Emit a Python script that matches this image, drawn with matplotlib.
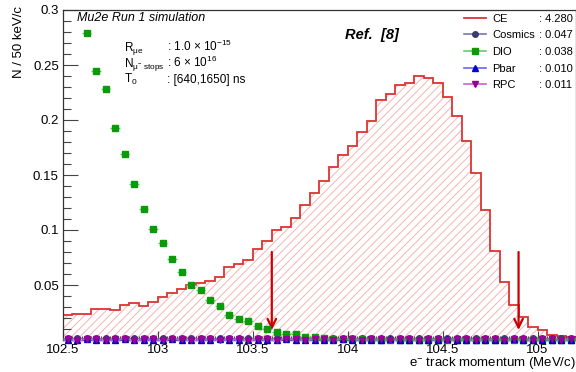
import matplotlib.pyplot as plt
import numpy as np
from matplotlib.lines import Line2D

plt.rcParams['font.family'] = ['Liberation Sans', 'DejaVu Sans']
plt.rcParams['mathtext.fontset'] = 'custom'
plt.rcParams['mathtext.rm'] = 'Liberation Sans'
plt.rcParams['mathtext.it'] = 'Liberation Sans:italic'
plt.rcParams['mathtext.bf'] = 'Liberation Sans:bold'
plt.rcParams['hatch.linewidth'] = 0.7

# 50 keV/c bins, 102.5 -> 105.2 MeV/c
bin_edges = np.linspace(102.5, 105.2, 55)
bin_centers = 0.5 * (bin_edges[:-1] + bin_edges[1:])

ce = [0.0230, 0.0234, 0.0240, 0.0280, 0.0280, 0.0270, 0.0315, 0.0340, 0.0310, 0.0350,
      0.0390, 0.0430, 0.0460, 0.0500, 0.0515, 0.0540, 0.0575, 0.0660, 0.0690, 0.0730,
      0.0830, 0.0900, 0.1000, 0.1025, 0.1110, 0.1230, 0.1340, 0.1450, 0.1570, 0.1680,
      0.1760, 0.1890, 0.1995, 0.2180, 0.2240, 0.2320, 0.2340, 0.2400, 0.2385, 0.2340,
      0.2210, 0.2040, 0.1810, 0.1520, 0.1180, 0.0810, 0.0530, 0.0320, 0.0210, 0.0120,
      0.0090, 0.0045, 0.0036, 0.0025]

dio = [np.nan, np.nan, 0.2790, 0.2445, 0.2280, 0.1930, 0.1694, 0.1421, 0.1194, 0.1012,
       0.0879, 0.0736, 0.0615, 0.0503, 0.0452, 0.0364, 0.0312, 0.0224, 0.0194, 0.0170,
       0.0124, 0.0100, 0.0073, 0.0055, 0.0052, 0.0030, 0.0027, 0.0020, 0.0012, 0.0010,
       0.0008, 0.0006, 0.0005, 0.0004, 0.0003, 0.0003, 0.0002, 0.0002, 0.0002, 0.0001,
       0.0001, 0.0001, 0.0001, 0.0001, 0.0001, 0.0001, 0.0000, 0.0000, 0.0000, 0.0000,
       0.0000, 0.0000, 0.0000, 0.0000]

cosmics = [0.0019, 0.0018, 0.0020, 0.0019, 0.0018, 0.0019, 0.0020, 0.0018, 0.0019, 0.0019,
           0.0018, 0.0020, 0.0019, 0.0018, 0.0019, 0.0020, 0.0019, 0.0018, 0.0019, 0.0020,
           0.0018, 0.0019, 0.0019, 0.0020, 0.0018, 0.0019, 0.0019, 0.0018, 0.0020, 0.0019,
           0.0018, 0.0019, 0.0020, 0.0019, 0.0018, 0.0019, 0.0020, 0.0018, 0.0019, 0.0019,
           0.0018, 0.0020, 0.0019, 0.0018, 0.0019, 0.0020, 0.0019, 0.0018, 0.0019, 0.0020,
           0.0018, 0.0019, 0.0019, 0.0018]

pbar = [0.0004, 0.0004, 0.0005, 0.0004, 0.0004, 0.0004, 0.0005, 0.0004, 0.0004, 0.0004,
        0.0004, 0.0005, 0.0004, 0.0004, 0.0004, 0.0004, 0.0005, 0.0004, 0.0004, 0.0004,
        0.0004, 0.0004, 0.0004, 0.0005, 0.0004, 0.0004, 0.0004, 0.0004, 0.0004, 0.0005,
        0.0004, 0.0004, 0.0004, 0.0004, 0.0005, 0.0004, 0.0004, 0.0004, 0.0004, 0.0004,
        0.0005, 0.0004, 0.0004, 0.0004, 0.0004, 0.0004, 0.0004, 0.0005, 0.0004, 0.0004,
        0.0004, 0.0004, 0.0004, 0.0004]

rpc = [0.0005, 0.0004, 0.0005, 0.0005, 0.0004, 0.0005, 0.0005, 0.0004, 0.0005, 0.0005,
       0.0004, 0.0005, 0.0005, 0.0004, 0.0005, 0.0005, 0.0004, 0.0005, 0.0005, 0.0004,
       0.0005, 0.0005, 0.0004, 0.0005, 0.0005, 0.0004, 0.0005, 0.0005, 0.0004, 0.0005,
       0.0005, 0.0004, 0.0005, 0.0005, 0.0004, 0.0005, 0.0005, 0.0004, 0.0005, 0.0005,
       0.0004, 0.0005, 0.0005, 0.0004, 0.0005, 0.0005, 0.0004, 0.0005, 0.0005, 0.0004,
       0.0005, 0.0005, 0.0004, 0.0005]

series_names = ['CE', 'Cosmics', 'DIO', 'Pbar', 'RPC']
window_yields = [4.280, 0.047, 0.038, 0.010, 0.011]
signal_window = [103.6, 104.9]

fig = plt.figure(figsize=(5.76, 3.72), dpi=100)
ax = fig.add_axes([63 / 576, 32 / 372, 512.5 / 576, 330 / 372])

red = '#dd3333'
ax.stairs(ce, bin_edges, fill=True, facecolor='none', edgecolor='#f4b4b4',
          hatch='////', linewidth=0)
ax.stairs(ce, bin_edges, color=red, linewidth=1.3)

half = 0.025
styles = {
    'Cosmics': dict(marker='o', color='#3b3b6e', ecolor='#7777aa', ms=4),
    'DIO': dict(marker='s', color='#0a9a0a', ecolor='#66cc66', ms=4.6),
    'Pbar': dict(marker='^', color='#0000cc', ecolor='#6666ff', ms=4.5),
    'RPC': dict(marker='v', color='#990099', ecolor='#cc66cc', ms=4.5),
}
values = {'Cosmics': cosmics, 'DIO': dio, 'Pbar': pbar, 'RPC': rpc}
for name in ['Cosmics', 'DIO', 'Pbar', 'RPC']:
    st = styles[name]
    ax.errorbar(bin_centers, values[name], xerr=half, fmt=st['marker'], color=st['color'],
                ecolor=st['ecolor'], elinewidth=1.0, ms=st['ms'], mec=st['color'],
                clip_on=False, zorder=3)

# signal window arrows
for xw in signal_window:
    ax.annotate('', xy=(xw, 0.009), xytext=(xw, 0.080),
                arrowprops=dict(arrowstyle='->,head_length=0.45,head_width=0.22',
                                color='#cc0000', lw=1.6, shrinkA=0, shrinkB=0,
                                mutation_scale=14))

ax.set_xlim(102.5, 105.2)
ax.set_ylim(0, 0.3)
ax.set_xticks([102.5, 103, 103.5, 104, 104.5, 105])
ax.set_xticklabels(['102.5', '103', '103.5', '104', '104.5', '105'])
ax.set_xticks(np.arange(102.5, 105.2, 0.05), minor=True)
ax.set_yticks([0.05, 0.1, 0.15, 0.2, 0.25, 0.3])
ax.set_yticklabels(['0.05', '0.1', '0.15', '0.2', '0.25', '0.3'])
ax.set_yticks(np.arange(0.01, 0.3, 0.01), minor=True)

ax.tick_params(axis='both', which='both', direction='in', labelsize=9.5, color='#444444',
               width=0.8)
ax.tick_params(axis='y', which='major', length=10.8, pad=3)
ax.tick_params(axis='y', which='minor', length=5.4)
ax.tick_params(axis='x', which='major', length=6.5, pad=2.8)
ax.tick_params(axis='x', which='minor', length=3.2)
for sp in ax.spines.values():
    sp.set_color('#333333')
    sp.set_linewidth(0.9)

ax.set_xlabel('e$^{-}$ track momentum (MeV/c)', fontsize=9.5, ha='right', va='bottom')
ax.xaxis.set_label_coords(1.0, -31 / 330)
ax.set_ylabel('N / 50 keV/c', fontsize=9.5, ha='right', va='center')
ax.yaxis.set_label_coords(-0.085, 1.012)

fig.text(77 / 576, 1 - 18 / 372, 'Mu2e Run 1 simulation', fontsize=9, style='italic',
         va='center')
params = [('R$_{\\mathrm{μe}}$', ': 1.0 $\\times$ 10$^{-15}$'),
          ('N$_{\\mathrm{μ^{-}\\ stops}}$', ': 6 $\\times$ 10$^{16}$'),
          ('T$_{0}$', ': [640,1650] ns')]
for i, (lab, val) in enumerate(params):
    yb = 1 - (51 + 15.8 * i) / 372
    fig.text(124 / 576, yb, lab, fontsize=8.5, va='baseline')
    fig.text(167 / 576, yb, val, fontsize=8.5, va='baseline')

fig.text(345 / 576, 1 - 39 / 372, 'Ref.  [8]', fontsize=10.5, style='italic',
         fontweight='bold', va='baseline')

# legend
handles = [Line2D([], [], color=red, lw=1.3)]
for name in ['Cosmics', 'DIO', 'Pbar', 'RPC']:
    st = styles[name]
    handles.append(Line2D([], [], color=st['ecolor'], lw=1.2, marker=st['marker'],
                          ms=st['ms'], mfc=st['color'], mec=st['color']))
leg = fig.legend(handles, series_names, loc='upper left',
                 bbox_to_anchor=(464 / 576, 1 - 13.5 / 372), frameon=False, fontsize=8,
                 borderpad=0, borderaxespad=0, handlelength=1.95, handletextpad=0.6,
                 labelspacing=0.6)
fig.canvas.draw()
renderer = fig.canvas.get_renderer()
for t, v in zip(leg.get_texts(), window_yields):
    bb = t.get_window_extent(renderer)
    yc = 0.5 * (bb.y0 + bb.y1) / fig.bbox.height
    fig.text(539 / 576, yc, f': {v:.3f}', fontsize=8, va='center')

fig.savefig('out.png', dpi=100)
